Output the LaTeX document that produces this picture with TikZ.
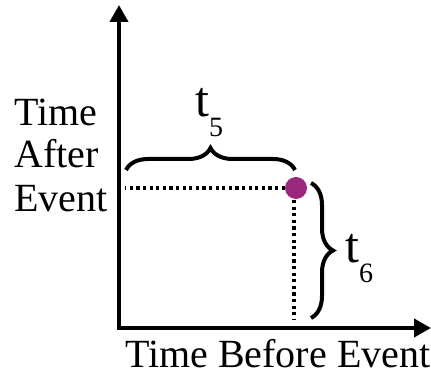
\documentclass[tikz,border=0pt]{standalone}
\usepackage{fontspec}
\setmainfont{LiberationSerif}[Extension=.ttf,UprightFont=*-Regular]
\usetikzlibrary{arrows.meta,decorations.pathreplacing}
\definecolor{dotpurple}{RGB}{155,40,125}
\begin{document}
\begin{tikzpicture}[x=1pt,y=1pt,
  axis/.style={line width=4pt,-{Triangle[length=17pt,width=18pt]}},
  dotline/.style={line width=3.2pt,dash pattern=on 3.2pt off 3.4pt},
  bracestyle/.style={line width=4pt,decorate,decoration={brace,amplitude=22pt}},
  lbl/.style={inner sep=0pt,anchor=base west,font=\fontsize{40}{40}\selectfont},
  tlbl/.style={inner sep=0pt,anchor=base west}]
\useasboundingbox (0,0) rectangle (431,377);
\coordinate (ytop) at (119,372);
\coordinate (xend) at (431,49);
\coordinate (ybot) at (119,47);
\coordinate (xbeg) at (117,49);
\draw[axis] (ybot) -- (ytop);
\draw[axis] (xbeg) -- (xend);
\node[circle,fill=dotpurple,inner sep=0pt,minimum size=22pt] (dot) at (296,189) {};
\coordinate (hl) at (125,189);
\coordinate (vt) at (294,177);
\coordinate (vb) at (294,57);
\draw[dotline] (dot.west) -- (hl);
\draw[dotline] (vt) -- (vb);
\coordinate (b1a) at (126,207);
\coordinate (b1b) at (295,207);
\draw[bracestyle] (b1a) -- (b1b);
\coordinate (b2a) at (311,194);
\coordinate (b2b) at (311,59);
\draw[bracestyle] (b2a) -- (b2b);
\node[tlbl] (t5) at (195,260) {\fontsize{50}{50}\selectfont t\raisebox{-20pt}{\fontsize{28}{28}\selectfont 5}};
\node[tlbl] (t6) at (345,114) {\fontsize{50}{50}\selectfont t\raisebox{-20pt}{\fontsize{28}{28}\selectfont 6}};
\node[lbl] (l1) at (14,251) {Time};
\node[lbl] (l2) at (14,209) {After};
\node[lbl] (l3) at (14,165) {Event};
\node[lbl] (xl) at (125,9) {Time Before Event};
\end{tikzpicture}
\end{document}
